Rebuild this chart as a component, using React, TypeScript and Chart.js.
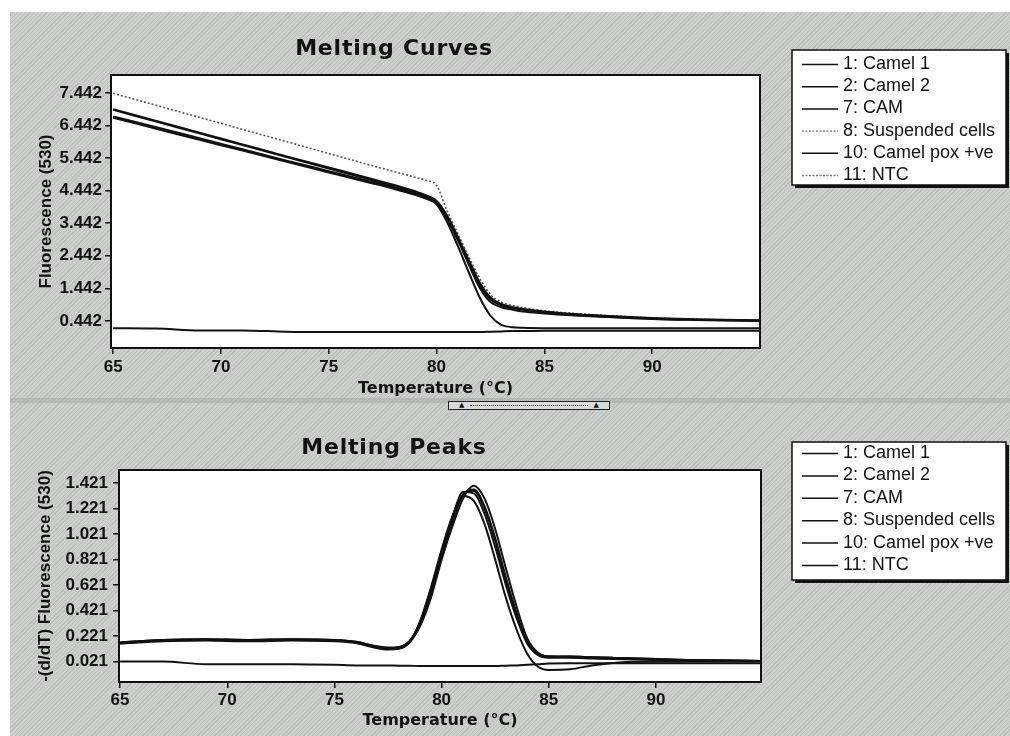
import React, { useEffect, useRef } from "react";
import { Chart, registerables } from "chart.js";

Chart.register(...registerables);

// ---------- data ----------
const seriesLabels = [
  "1: Camel 1",
  "2: Camel 2",
  "7: CAM",
  "8: Suspended cells",
  "10: Camel pox +ve",
  "11: NTC",
];

const xTickValues = [65, 70, 75, 80, 85, 90];
const curveYTicks = [0.442, 1.442, 2.442, 3.442, 4.442, 5.442, 6.442, 7.442];
const peakYTicks = [0.021, 0.221, 0.421, 0.621, 0.821, 1.021, 1.221, 1.421];

// Melting curves: fluorescence (530) vs temperature
const curveTemps = [65, 67, 69, 71, 73, 75, 77, 78, 79, 79.5, 80, 80.5, 81, 81.5, 82, 82.5, 83, 83.5, 84, 85, 86, 88, 90, 92, 95];
const curveCamel1 = [6.94, 6.58, 6.22, 5.86, 5.5, 5.15, 4.8, 4.62, 4.42, 4.3, 4.12, 3.66, 3.0, 2.3, 1.62, 1.16, 0.96, 0.87, 0.81, 0.73, 0.67, 0.59, 0.53, 0.49, 0.46];
const curveCamel2 = [6.72, 6.39, 6.05, 5.71, 5.37, 5.04, 4.71, 4.54, 4.35, 4.24, 4.06, 3.56, 2.9, 2.16, 1.46, 1.02, 0.86, 0.79, 0.73, 0.67, 0.62, 0.56, 0.5, 0.47, 0.44];
const curveCam = [6.68, 6.34, 6.0, 5.67, 5.33, 5.0, 4.67, 4.5, 4.31, 4.2, 4.02, 3.46, 2.72, 1.92, 1.16, 0.6, 0.32, 0.25, 0.23, 0.22, 0.22, 0.22, 0.22, 0.22, 0.22];
const curveSuspended = [7.43, 7.06, 6.69, 6.32, 5.95, 5.58, 5.21, 5.03, 4.85, 4.76, 4.6, 3.8, 3.1, 2.4, 1.75, 1.25, 1.02, 0.92, 0.85, 0.75, 0.69, 0.6, 0.53, 0.49, 0.46];
const curveCamelPox = [6.92, 6.56, 6.2, 5.84, 5.48, 5.12, 4.76, 4.58, 4.38, 4.27, 4.09, 3.62, 2.96, 2.24, 1.55, 1.1, 0.92, 0.84, 0.78, 0.7, 0.65, 0.57, 0.51, 0.48, 0.45];
const curveNtc = [0.22, 0.21, 0.15, 0.15, 0.11, 0.1, 0.1, 0.1, 0.1, 0.1, 0.1, 0.1, 0.1, 0.1, 0.1, 0.11, 0.12, 0.13, 0.13, 0.14, 0.14, 0.14, 0.14, 0.14, 0.14];

// Melting peaks: -(d/dT) fluorescence (530) vs temperature
const peakTemps = [65, 67, 69, 71, 73, 75, 76, 77, 77.5, 78, 78.5, 79, 79.5, 80, 80.5, 81, 81.5, 82, 82.5, 83, 83.5, 84, 84.5, 85, 86, 87, 88, 90, 92, 95];
const peakCamel1 = [0.165, 0.185, 0.19, 0.185, 0.19, 0.185, 0.17, 0.13, 0.12, 0.125, 0.17, 0.3, 0.52, 0.82, 1.08, 1.3, 1.4, 1.3, 1.06, 0.75, 0.45, 0.2, 0.09, 0.06, 0.055, 0.05, 0.045, 0.035, 0.03, 0.025];
const peakCamel2 = [0.17, 0.19, 0.195, 0.19, 0.195, 0.19, 0.175, 0.135, 0.125, 0.13, 0.18, 0.33, 0.58, 0.88, 1.15, 1.35, 1.34, 1.18, 0.92, 0.62, 0.36, 0.16, 0.07, 0.05, 0.05, 0.045, 0.04, 0.035, 0.03, 0.025];
const peakCam = [0.16, 0.18, 0.185, 0.18, 0.185, 0.18, 0.165, 0.125, 0.115, 0.12, 0.17, 0.34, 0.6, 0.9, 1.16, 1.32, 1.28, 1.1, 0.82, 0.52, 0.27, 0.08, -0.02, -0.045, -0.04, -0.01, 0.01, 0.02, 0.02, 0.02];
const peakSuspended = [0.17, 0.19, 0.195, 0.19, 0.195, 0.19, 0.175, 0.14, 0.13, 0.135, 0.18, 0.32, 0.56, 0.86, 1.13, 1.33, 1.36, 1.22, 0.97, 0.66, 0.38, 0.17, 0.08, 0.06, 0.06, 0.055, 0.05, 0.04, 0.03, 0.025];
const peakCamelPox = [0.165, 0.185, 0.19, 0.185, 0.19, 0.185, 0.17, 0.13, 0.12, 0.125, 0.175, 0.31, 0.55, 0.85, 1.12, 1.33, 1.37, 1.24, 0.99, 0.68, 0.4, 0.17, 0.08, 0.06, 0.06, 0.055, 0.05, 0.04, 0.03, 0.025];
const peakNtc = [0.02, 0.02, 0.0, 0.0, 0.0, -0.005, -0.01, -0.01, -0.01, -0.012, -0.012, -0.015, -0.015, -0.015, -0.015, -0.015, -0.015, -0.015, -0.015, -0.012, -0.01, -0.005, 0.0, 0.005, 0.008, 0.008, 0.008, 0.008, 0.008, 0.008];

// ---------- styles ----------
type LineStyle = { color: string; width: number; dash: number[] };
const INK = "#111111";
const solid: LineStyle = { color: INK, width: 2, dash: [] };
const dotted: LineStyle = { color: "#555555", width: 1.6, dash: [2, 2] };

const curvePlotStyles: LineStyle[] = [solid, solid, solid, dotted, solid, solid];
const curveLegendStyles: LineStyle[] = [
  { color: INK, width: 1.5, dash: [] },
  { color: INK, width: 1.5, dash: [] },
  { color: INK, width: 1.5, dash: [] },
  { color: "#777777", width: 1.3, dash: [2, 1.5] },
  { color: INK, width: 1.5, dash: [] },
  { color: "#777777", width: 1.3, dash: [2, 1.5] },
];
const peakPlotStyles: LineStyle[] = [solid, solid, solid, solid, solid, solid];
const peakLegendStyles: LineStyle[] = curveLegendStyles.map(() => ({ color: INK, width: 1.5, dash: [] }));

// ---------- plugin: white plot area, frame, title, boxed legend ----------
const framePlugin = {
  id: "rsFrame",
  beforeDraw(chart: any) {
    const { ctx, chartArea: a } = chart;
    ctx.save();
    ctx.fillStyle = "#ffffff";
    ctx.fillRect(a.left, a.top, a.right - a.left, a.bottom - a.top);
    ctx.restore();
  },
  afterDraw(chart: any, _args: any, opts: any) {
    const { ctx, chartArea: a } = chart;
    ctx.save();
    ctx.strokeStyle = INK;
    ctx.lineWidth = 2;
    ctx.strokeRect(a.left, a.top, a.right - a.left, a.bottom - a.top);

    // chart title
    ctx.fillStyle = INK;
    ctx.font = "bold 22px 'DejaVu Sans'";
    (ctx as any).letterSpacing = "0.8px";
    ctx.textAlign = "center";
    ctx.textBaseline = "middle";
    ctx.fillText(opts.title, opts.titleX, opts.titleY);
    (ctx as any).letterSpacing = "0px";

    // legend box with shadow
    const L = opts.legend;
    ctx.fillStyle = INK;
    ctx.fillRect(L.x + 3, L.y + 3, L.w, L.h);
    ctx.fillStyle = "#ffffff";
    ctx.fillRect(L.x, L.y, L.w, L.h);
    ctx.strokeStyle = INK;
    ctx.lineWidth = 1.5;
    ctx.strokeRect(L.x, L.y, L.w, L.h);

    chart.data.datasets.forEach((ds: any, i: number) => {
      const y = L.firstY + i * L.step;
      const st: LineStyle = opts.legendStyles[i];
      ctx.beginPath();
      ctx.setLineDash(st.dash);
      ctx.strokeStyle = st.color;
      ctx.lineWidth = st.width;
      ctx.moveTo(L.x + 10, y + 0.5);
      ctx.lineTo(L.x + 46, y + 0.5);
      ctx.stroke();
      ctx.setLineDash([]);
      ctx.fillStyle = INK;
      ctx.font = "18px 'Liberation Sans'";
      ctx.textAlign = "left";
      ctx.textBaseline = "middle";
      ctx.fillText(ds.label, L.x + 51, y);
    });
    ctx.restore();
  },
};

type Cfg = {
  temps: number[];
  series: number[][];
  plotStyles: LineStyle[];
  legendStyles: LineStyle[];
  xMin: number;
  xMax: number;
  yMin: number;
  yMax: number;
  yTicks: number[];
  yTitle: string;
  padTop: number;
  padRight: number;
  yAxisWidth: number;
  xAxisHeight: number;
  xTickPad: number;
  yTickPad: number;
  yTitlePad: number;
  xTitlePad: number;
  title: string;
  titleX: number;
  titleY: number;
  legend: { x: number; y: number; w: number; h: number; firstY: number; step: number };
};

const tickFont = { family: "'Liberation Sans', Arial, sans-serif", weight: "bold" as const, size: 17 };

function makeConfig(c: Cfg): any {
  return {
    type: "line",
    data: {
      datasets: c.series.map((vals, i) => ({
        label: seriesLabels[i],
        data: vals.map((v, k) => ({ x: c.temps[k], y: v })),
        borderColor: c.plotStyles[i].color,
        borderWidth: c.plotStyles[i].width,
        borderDash: c.plotStyles[i].dash,
        pointRadius: 0,
        fill: false,
        cubicInterpolationMode: "monotone",
      })),
    },
    options: {
      responsive: false,
      animation: false,
      events: [],
      layout: { padding: { top: c.padTop, right: c.padRight, left: 0, bottom: 0 } },
      plugins: {
        legend: { display: false },
        title: { display: false },
        tooltip: { enabled: false },
        rsFrame: {
          title: c.title,
          titleX: c.titleX,
          titleY: c.titleY,
          legend: c.legend,
          legendStyles: c.legendStyles,
        },
      },
      scales: {
        x: {
          type: "linear",
          min: c.xMin,
          max: c.xMax,
          afterBuildTicks: (scale: any) => {
            scale.ticks = xTickValues.map((v) => ({ value: v }));
          },
          afterFit: (scale: any) => {
            scale.height = c.xAxisHeight;
          },
          ticks: {
            autoSkip: false,
            maxRotation: 0,
            padding: c.xTickPad,
            color: INK,
            font: tickFont,
            callback: (v: any) => String(v),
          },
          grid: { drawOnChartArea: false, drawTicks: true, tickLength: 6, color: INK, lineWidth: 1.5 },
          border: { display: false },
          title: {
            display: true,
            text: "Temperature (°C)",
            color: INK,
            font: { family: "'DejaVu Sans', sans-serif", weight: "bold", size: 16 },
            padding: { top: 0, bottom: c.xTitlePad },
          },
        },
        y: {
          type: "linear",
          min: c.yMin,
          max: c.yMax,
          afterBuildTicks: (scale: any) => {
            scale.ticks = c.yTicks.map((v) => ({ value: v }));
          },
          afterFit: (scale: any) => {
            scale.width = c.yAxisWidth;
          },
          ticks: {
            autoSkip: false,
            padding: c.yTickPad,
            color: INK,
            font: tickFont,
            callback: (v: any) => Number(v).toFixed(3),
          },
          grid: { drawOnChartArea: false, drawTicks: true, tickLength: 6, color: INK, lineWidth: 1.5 },
          border: { display: false },
          title: {
            display: true,
            text: c.yTitle,
            color: INK,
            font: { family: "'Liberation Sans', Arial, sans-serif", weight: "bold", size: 17 },
            padding: { top: c.yTitlePad, bottom: 0 },
          },
        },
      },
    },
    plugins: [framePlugin],
  };
}

export default function App() {
  const topRef = useRef<HTMLCanvasElement>(null);
  const botRef = useRef<HTMLCanvasElement>(null);

  useEffect(() => {
    const top = new Chart(
      topRef.current as HTMLCanvasElement,
      makeConfig({
        temps: curveTemps,
        series: [curveCamel1, curveCamel2, curveCam, curveSuspended, curveCamelPox, curveNtc],
        plotStyles: curvePlotStyles,
        legendStyles: curveLegendStyles,
        xMin: 64.9,
        xMax: 95,
        yMin: -0.39,
        yMax: 7.99,
        yTicks: curveYTicks,
        yTitle: "Fluorescence (530)",
        padTop: 75,
        padRight: 250,
        yAxisWidth: 111,
        xAxisHeight: 52,
        xTickPad: 3,
        yTickPad: 3,
        yTitlePad: 36,
        xTitlePad: 2,
        title: "Melting Curves",
        titleX: 394,
        titleY: 49,
        legend: { x: 792, y: 50, w: 214, h: 135, firstY: 64, step: 22.2 },
      })
    );
    const bot = new Chart(
      botRef.current as HTMLCanvasElement,
      makeConfig({
        temps: peakTemps,
        series: [peakCamel1, peakCamel2, peakCam, peakSuspended, peakCamelPox, peakNtc],
        plotStyles: peakPlotStyles,
        legendStyles: peakLegendStyles,
        xMin: 64.95,
        xMax: 94.9,
        yMin: -0.14,
        yMax: 1.523,
        yTicks: peakYTicks,
        yTitle: "-(d/dT) Fluorescence (530)",
        padTop: 70,
        padRight: 249,
        yAxisWidth: 119,
        xAxisHeight: 54,
        xTickPad: 2,
        yTickPad: 5,
        yTitlePad: 35,
        xTitlePad: 6,
        title: "Melting Peaks",
        titleX: 394,
        titleY: 48,
        legend: { x: 792, y: 42, w: 214, h: 138, firstY: 53, step: 22.4 },
      })
    );
    return () => {
      top.destroy();
      bot.destroy();
    };
  }, []);

  return (
    <div style={{ position: "absolute", left: 0, top: 0, width: 1010, height: 736, background: "#ffffff", overflow: "hidden" }}>
      <div
        style={{
          position: "absolute",
          left: 10,
          top: 12,
          right: 0,
          bottom: 0,
          background:
            "repeating-linear-gradient(135deg, #cdcfcd 0px, #cdcfcd 2px, #bec0be 2px, #bec0be 3px)",
        }}
      />
      <div style={{ position: "absolute", left: 10, right: 0, top: 398, height: 5, background: "#a9aba9", opacity: 0.6 }} />
      <div
        style={{
          position: "absolute",
          left: 448,
          top: 401,
          width: 162,
          height: 9,
          border: "1px solid #222",
          background: "#d9dad9",
          display: "flex",
          alignItems: "center",
          justifyContent: "space-between",
          padding: "0 10px",
          boxSizing: "border-box",
          fontFamily: "'DejaVu Sans', sans-serif",
          fontSize: 7,
          lineHeight: "7px",
          color: "#111",
        }}
      >
        <span>▲</span>
        <span style={{ flex: 1, margin: "0 6px", borderTop: "1px dotted #333" }} />
        <span>▲</span>
      </div>
      <canvas ref={topRef} width={1010} height={400} style={{ position: "absolute", left: 0, top: 0, width: 1010, height: 400 }} />
      <canvas ref={botRef} width={1010} height={336} style={{ position: "absolute", left: 0, top: 400, width: 1010, height: 336 }} />
    </div>
  );
}
